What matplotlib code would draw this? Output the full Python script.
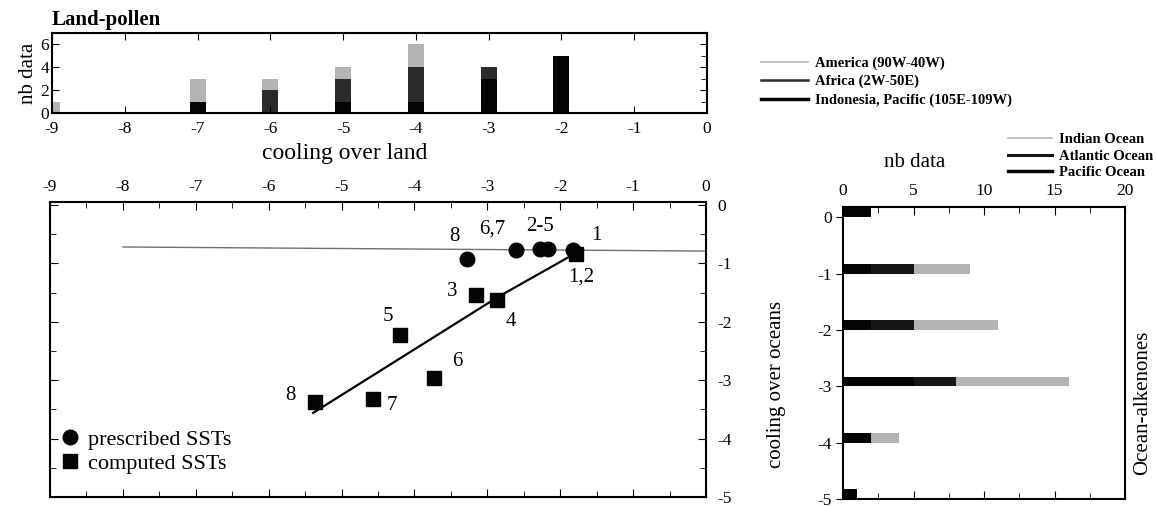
import matplotlib
matplotlib.use("Agg")
import matplotlib.pyplot as plt
from matplotlib.lines import Line2D
from matplotlib.ticker import MultipleLocator
import numpy as np

plt.rcParams['font.family'] = ['Liberation Serif', 'DejaVu Serif']
plt.rcParams['axes.unicode_minus'] = False

# ---------------- data ----------------
land_bins = [-9, -8, -7, -6, -5, -4, -3, -2, -1]
land_indonesia = [0, 0, 1, 0, 1, 1, 3, 5, 0]
land_africa = [0, 0, 0, 2, 2, 3, 1, 0, 0]
land_america = [1, 0, 2, 1, 1, 2, 0, 0, 0]
land_labels = ["America (90W-40W)", "Africa (2W-50E)", "Indonesia, Pacific (105E-109W)"]

ocean_bins = [0, -1, -2, -3, -4, -5]
ocean_pacific = [2, 2, 2, 5, 2, 1]
ocean_atlantic = [0, 3, 3, 3, 0, 0]
ocean_indian = [0, 4, 6, 8, 2, 0]
ocean_labels = ["Indian Ocean", "Atlantic Ocean", "Pacific Ocean"]

presc_x = [-3.28, -2.60, -2.28, -2.17, -1.83]
presc_y = [-0.92, -0.77, -0.75, -0.75, -0.77]
presc_lab = ["8", "6,7", "2-5", "", "1"]

comp_x = [-1.78, -3.15, -2.87, -4.20, -3.73, -4.57, -5.37]
comp_y = [-0.84, -1.54, -1.63, -2.22, -2.97, -3.32, -3.38]
comp_lab = ["1,2", "3", "4", "5", "6", "7", "8"]

fit_x = [-5.39, -2.86, -1.78]
fit_y = [-3.56, -1.58, -0.82]
ref_x = [-8, 0]
ref_y = [-0.72, -0.79]

# label offsets in pixels (layout only)
presc_off = [(-12, 22), (-24, 21), (0, 22), (0, 0), (24, 14)]
comp_off = [(5, -23), (-24, 3), (14, -21), (-12, 18), (23, 17), (19, -7), (-24, 7)]

W, H = 1157, 507
fig = plt.figure(figsize=(W / 100, H / 100), dpi=100)

def fx(px):
    return px / W

def fy(py):
    return 1 - py / H

blk = '#050505'
dark = '#2b2b2b'
light = '#b4b4b4'

# ---------------- top histogram ----------------
axt = fig.add_axes([fx(52), fy(113), fx(707) - fx(52), fy(33) - fy(113)])
b1 = np.array(land_indonesia, float)
b2 = np.array(land_africa, float)
b3 = np.array(land_america, float)
w = 0.22
axt.bar(land_bins, b1, width=w, color=blk)
axt.bar(land_bins, b2, width=w, bottom=b1, color=dark)
axt.bar(land_bins, b3, width=w, bottom=b1 + b2, color=light)
axt.set_xlim(-9, 0)
axt.set_ylim(0, 7)
axt.set_yticks([0, 2, 4, 6])
axt.set_xticks(range(-9, 1))
axt.tick_params(axis='both', direction='in', labelsize=12.5, length=5)
axt.tick_params(axis='x', top=True, pad=6)
axt.tick_params(axis='y', right=True, pad=2)
axt.yaxis.set_minor_locator(MultipleLocator(1))
axt.tick_params(which='minor', direction='in', right=True, left=False, length=4)
axt.set_ylabel("nb data", fontsize=15, labelpad=2)
for s in axt.spines.values():
    s.set_linewidth(1.5)
fig.text(fx(52), fy(20), "Land-pollen", fontsize=15, fontweight='bold', va='center', ha='left')
fig.text(fx(345), fy(153), "cooling over land", fontsize=17, va='center', ha='center')

land_handles = [Line2D([], [], color=light, lw=1.2),
                Line2D([], [], color=dark, lw=1.8),
                Line2D([], [], color=blk, lw=2.5)]
fig.legend(land_handles, land_labels, loc='upper left',
           bbox_to_anchor=(fx(754), fy(49)), frameon=False,
           prop={'size': 10.5, 'weight': 'bold'}, handlelength=3.2,
           handletextpad=0.5, labelspacing=0.35, borderpad=0)

# ---------------- main scatter ----------------
axm = fig.add_axes([fx(50), fy(497), fx(706) - fx(50), fy(202) - fy(497)])
axm.plot(ref_x, ref_y, color='#707070', lw=1.0)
axm.plot(fit_x, fit_y, color=blk, lw=1.6)
axm.plot(presc_x, presc_y, 'o', color=blk, ms=10.5, mec=blk, ls='none', label="prescribed SSTs")
axm.plot(comp_x, comp_y, 's', color=blk, ms=10, ls='none', label="computed SSTs")
for x, y, t, o in zip(presc_x, presc_y, presc_lab, presc_off):
    if t:
        axm.annotate(t, (x, y), xytext=o, textcoords='offset pixels',
                     ha='center', va='center', fontsize=15)
for x, y, t, o in zip(comp_x, comp_y, comp_lab, comp_off):
    axm.annotate(t, (x, y), xytext=o, textcoords='offset pixels',
                 ha='center', va='center', fontsize=15)
axm.set_xlim(-9, 0)
axm.set_ylim(-4.95, 0.05)
axm.set_xticks(range(-9, 1))
axm.set_yticks(range(-5, 1))
axm.xaxis.set_minor_locator(MultipleLocator(0.5))
axm.yaxis.set_minor_locator(MultipleLocator(0.5))
axm.xaxis.tick_top()
axm.yaxis.tick_right()
axm.tick_params(axis='both', which='both', direction='in', top=True, bottom=True,
                left=True, right=True, labelsize=12.5)
axm.tick_params(which='major', length=6)
axm.tick_params(which='minor', length=4)
axm.tick_params(axis='x', pad=5)
axm.tick_params(axis='y', pad=8)
for s in axm.spines.values():
    s.set_linewidth(1.5)
axm.legend(loc='lower left', bbox_to_anchor=(0.0, 0.04), frameon=False,
           prop={'size': 16}, handlelength=0.8, handletextpad=0.4,
           labelspacing=0.15, borderpad=0.3, borderaxespad=0.2)

# ---------------- right histogram ----------------
axr = fig.add_axes([fx(843), fy(499), fx(1125) - fx(843), fy(207) - fy(499)])
p = np.array(ocean_pacific, float)
a = np.array(ocean_atlantic, float)
i = np.array(ocean_indian, float)
hgt = 0.17
axr.barh(ocean_bins, p, height=hgt, align='edge', color=blk)
axr.barh(ocean_bins, a, height=hgt, left=p, align='edge', color='#151515')
axr.barh(ocean_bins, i, height=hgt, left=p + a, align='edge', color=light)
axr.set_xlim(0, 20)
axr.set_ylim(-5, 0.18)
axr.set_xticks([0, 5, 10, 15, 20])
axr.xaxis.set_minor_locator(MultipleLocator(2.5))
axr.set_yticks(range(-5, 1))
axr.xaxis.tick_top()
axr.tick_params(axis='x', which='both', direction='in', top=True, bottom=True, labelsize=12.5, pad=6)
axr.tick_params(axis='x', which='major', length=6)
axr.tick_params(axis='x', which='minor', length=4)
axr.tick_params(axis='y', direction='out', length=5, labelsize=12.5, pad=3)
for s in axr.spines.values():
    s.set_linewidth(1.5)
fig.text(fx(915), fy(162), "nb data", fontsize=15, ha='center', va='center')
fig.text(fx(776), fy(384), "cooling over oceans", fontsize=15, ha='center', va='center', rotation=90)
fig.text(fx(1143), fy(403), "Ocean-alkenones", fontsize=15, ha='center', va='center', rotation=90)

ocean_handles = [Line2D([], [], color=light, lw=1.2),
                 Line2D([], [], color='#151515', lw=2.2),
                 Line2D([], [], color=blk, lw=2.5)]
fig.legend(ocean_handles, ocean_labels, loc='upper left',
           bbox_to_anchor=(fx(1001), fy(126)), frameon=False,
           prop={'size': 10.5, 'weight': 'bold'}, handlelength=3.0,
           handletextpad=0.5, labelspacing=0.22, borderpad=0)

fig.savefig("out.png", dpi=100)
